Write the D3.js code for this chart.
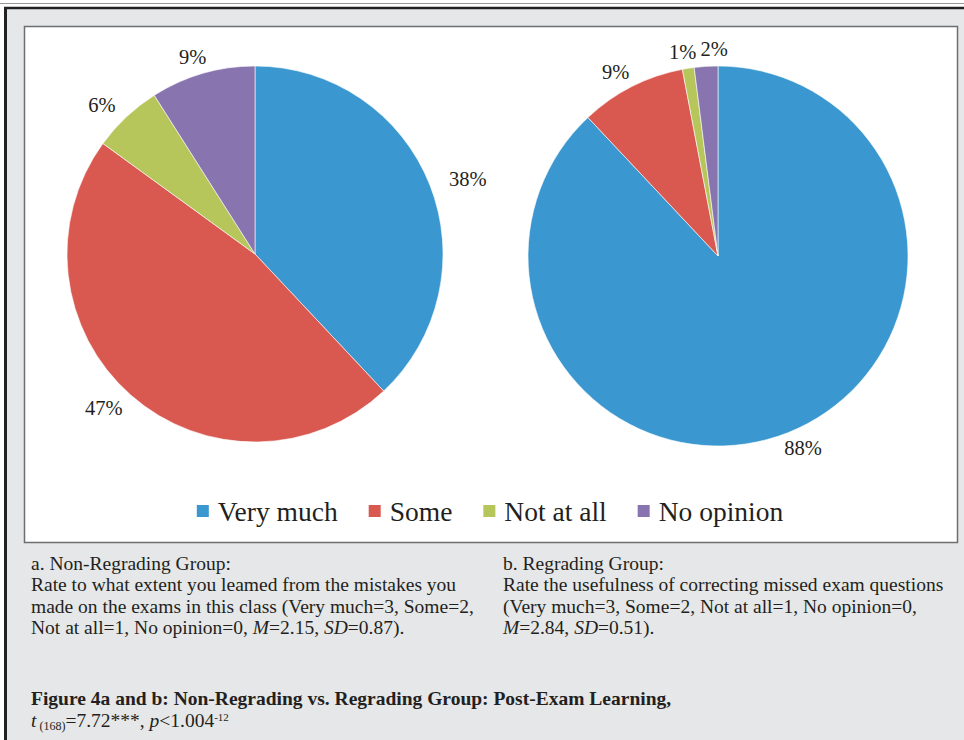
<!DOCTYPE html>
<html>
<head>
<meta charset="utf-8">
<script src="https://cdn.jsdelivr.net/npm/d3@7"></script>
<style>
  body { margin: 0; background: #e6e7e8; }
  svg { display: block; font-family: "Liberation Serif", "Times New Roman", serif; }
</style>
</head>
<body>
<svg id="chart" width="964" height="740"></svg>
<script>
// categories and values
const categories = ["Very much", "Some", "Not at all", "No opinion"]
const nonRegrading = [38, 47, 6, 9]
const regrading = [88, 9, 1, 2]
const colors = ["#3a97cf", "#d9584f", "#b6c65b", "#8874ae"]

const captionA = [
  "a. Non-Regrading Group:",
  "Rate to what extent you leamed from the mistakes you",
  "made on the exams in this class (Very much=3, Some=2,"
]
const captionB = [
  "b. Regrading Group:",
  "Rate the usefulness of correcting missed exam questions",
  "(Very much=3, Some=2, Not at all=1, No opinion=0,"
]

const svg = d3.select('#chart')
const ink = '#231f20'

// frame
svg.append('rect').attr('x', 0).attr('y', 0).attr('width', 964).attr('height', 740).attr('fill', '#e6e7e8')
svg.append('rect').attr('x', 0).attr('y', 0).attr('width', 964).attr('height', 7).attr('fill', '#fff')
svg.append('rect').attr('x', 0).attr('y', 7).attr('width', 4).attr('height', 733).attr('fill', '#fff')
svg.append('line').attr('x1', 0).attr('x2', 964).attr('y1', 3.5).attr('y2', 3.5).attr('stroke', '#999').attr('stroke-width', 1)
svg.append('line').attr('x1', 4).attr('x2', 964).attr('y1', 8).attr('y2', 8).attr('stroke', '#222').attr('stroke-width', 2.5)
svg.append('line').attr('x1', 5.5).attr('x2', 5.5).attr('y1', 7).attr('y2', 740).attr('stroke', '#222').attr('stroke-width', 3)
svg.append('rect').attr('x', 24.5).attr('y', 26.5).attr('width', 933).attr('height', 516)
  .attr('fill', '#fff').attr('stroke', '#6d6e70').attr('stroke-width', 1.5)

const color = d3.scaleOrdinal().domain(categories).range(colors)
const pie = d3.pie().sort(null).value(d => d.value)

function drawPie(values, cx, cy, r) {
  const data = categories.map((c, i) => ({cat: c, value: values[i]}))
  const arcs = pie(data)
  const g = svg.append('g').attr('transform', `translate(${cx},${cy})`)
  const arc = d3.arc().innerRadius(0).outerRadius(r)
  g.selectAll('path').data(arcs).enter().append('path')
    .attr('d', arc)
    .attr('fill', d => color(d.data.cat))
    .attr('stroke', '#fff').attr('stroke-width', 0.6)

  // labels outside the end of each slice
  const labels = g.selectAll('text').data(arcs).enter().append('text')
    .attr('text-anchor', 'middle')
    .attr('font-size', 20.5).attr('fill', ink)
    .text(d => d.data.value + '%')
  const boxes = []
  labels.each(function(d) {
    const a = (d.startAngle + d.endAngle) / 2
    const hw = this.getComputedTextLength() / 2
    const x = Math.sin(a) * (r + 22 + hw)
    const y = -Math.cos(a) * (r + 17) + 7
    boxes.push({node: this, x, y, hw})
  })
  // push apart labels that would overlap
  for (let i = 1; i < boxes.length; i++) {
    const p = boxes[i - 1], b = boxes[i]
    if (Math.abs(p.y - b.y) < 18) {
      const overlap = (p.x + p.hw) - (b.x - b.hw)
      if (overlap > -4 && b.x > p.x) b.x += overlap + 4
    }
  }
  boxes.forEach(b => d3.select(b.node).attr('x', b.x).attr('y', b.y))
}

drawPie(nonRegrading, 255, 254, 188)
drawPie(regrading, 718, 256, 190)

// legend
const legend = svg.append('g')
let lx = 0
categories.forEach((c, i) => {
  const it = legend.append('g')
  it.append('rect').attr('width', 12).attr('height', 12).attr('y', -16).attr('fill', colors[i])
  const t = it.append('text').attr('x', 21).attr('font-size', 27.5).attr('fill', ink).text(c)
  const w = 21 + t.node().getComputedTextLength()
  it.attr('transform', `translate(${lx},0)`)
  lx += w + 31
})
lx -= 31
legend.attr('transform', `translate(${490 - lx / 2},521)`)

// captions
const capSize = 19.5
function caption(lines, x, last) {
  const t = svg.append('text').attr('font-size', capSize).attr('fill', ink)
  lines.forEach((l, i) => {
    t.append('tspan').attr('x', x).attr('y', 570 + i * 21.3).text(l)
  })
  const t2 = svg.append('text').attr('font-size', capSize).attr('fill', ink)
    .attr('x', x).attr('y', 570 + 3 * 21.3)
  last.forEach(([s, it]) => t2.append('tspan').attr('font-style', it ? 'italic' : null).text(s))
}

caption(captionA, 31, [['Not at all=1, No opinion=0, '], ['M', 1], ['=2.15, '], ['SD', 1], ['=0.87).']])
caption(captionB, 503, [['M', 1], ['=2.84, '], ['SD', 1], ['=0.51).']])

// figure title
svg.append('text').attr('x', 31).attr('y', 705).attr('font-size', capSize).attr('font-weight', 'bold')
  .attr('fill', ink)
  .text('Figure 4a and b: Non-Regrading vs. Regrading Group: Post-Exam Learning,')
const stat = svg.append('text').attr('x', 31).attr('y', 727).attr('font-size', capSize).attr('fill', ink)
stat.append('tspan').attr('font-style', 'italic').text('t')
stat.append('tspan').attr('font-size', 12).attr('dy', 3).text(' (168)')
stat.append('tspan').attr('dy', -3).text('=7.72***, ')
stat.append('tspan').attr('font-style', 'italic').text('p')
stat.append('tspan').text('<1.004')
stat.append('tspan').attr('font-size', 11).attr('dy', -6).text('-12')
</script>
</body>
</html>
